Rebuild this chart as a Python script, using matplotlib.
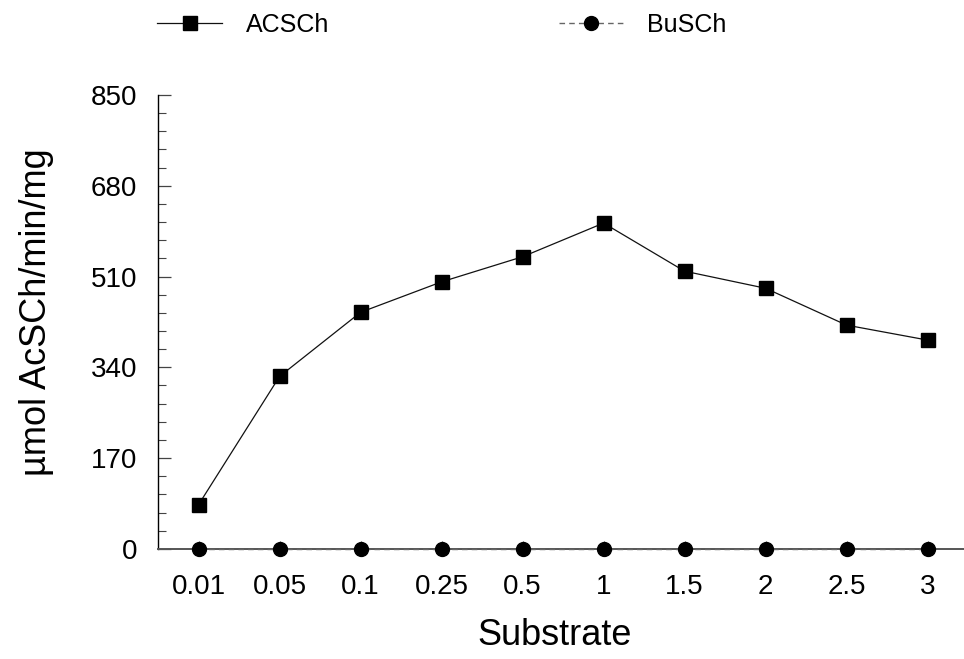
import matplotlib
matplotlib.use("Agg")
import matplotlib.pyplot as plt
from matplotlib.ticker import MultipleLocator

plt.rcParams['font.family'] = ['Liberation Sans', 'DejaVu Sans']

substrate = ['0.01', '0.05', '0.1', '0.25', '0.5', '1', '1.5', '2', '2.5', '3']
acsch = [83, 323, 443, 500, 547, 610, 520, 488, 419, 391]
busch = [0, 0, 0, 0, 0, 0, 0, 0, 0, 0]
y_ticks = [0, 170, 340, 510, 680, 850]

fig = plt.figure(figsize=(9.64, 6.59), dpi=100)
ax = fig.add_axes([0.164, 0.167, 0.836, 0.689])

x = list(range(len(substrate)))
l1, = ax.plot(x, acsch, color='#111111', lw=0.9, marker='s', markersize=10,
              markerfacecolor='black', markeredgecolor='black', label='ACSCh', zorder=4)
l2, = ax.plot(x, busch, color='#666666', lw=1.0, ls=(0, (4, 3)), marker='o', markersize=10,
              markerfacecolor='black', markeredgecolor='black', label='BuSCh', clip_on=False, zorder=5)

ax.set_xlim(-0.5, 9.45)
ax.set_ylim(0, 850)
ax.set_xticks(x)
ax.set_xticklabels(substrate)
ax.set_yticks(y_ticks)
ax.yaxis.set_minor_locator(MultipleLocator(34))

for s in ['top', 'right']:
    ax.spines[s].set_visible(False)
ax.spines['left'].set_color('black')
ax.spines['left'].set_linewidth(1.0)
ax.spines['bottom'].set_color('#555555')
ax.spines['bottom'].set_linewidth(1.4)

ax.tick_params(axis='y', which='major', direction='in', length=9.5, width=0.9,
               color='#444444', labelsize=20, pad=15)
ax.tick_params(axis='y', which='minor', direction='in', length=6, width=0.8, color='#444444')
ax.tick_params(axis='x', which='major', direction='in', length=6, width=0.8,
               color='#444444', labelsize=20, pad=18)

ax.set_xlabel('Substrate', fontsize=26)
ax.set_ylabel('µmol AcSCh/min/mg', fontsize=26)
ax.xaxis.set_label_coords(0.4925, -0.152)
ax.yaxis.set_label_coords(-0.129, 0.522)

fig.legend(handles=[l1, l2], loc='upper left', bbox_to_anchor=(0.140, 1.015), ncol=2,
           frameon=False, fontsize=18, handlelength=2.6, handletextpad=0.92,
           columnspacing=9.2)

fig.savefig('out.png', dpi=100)
